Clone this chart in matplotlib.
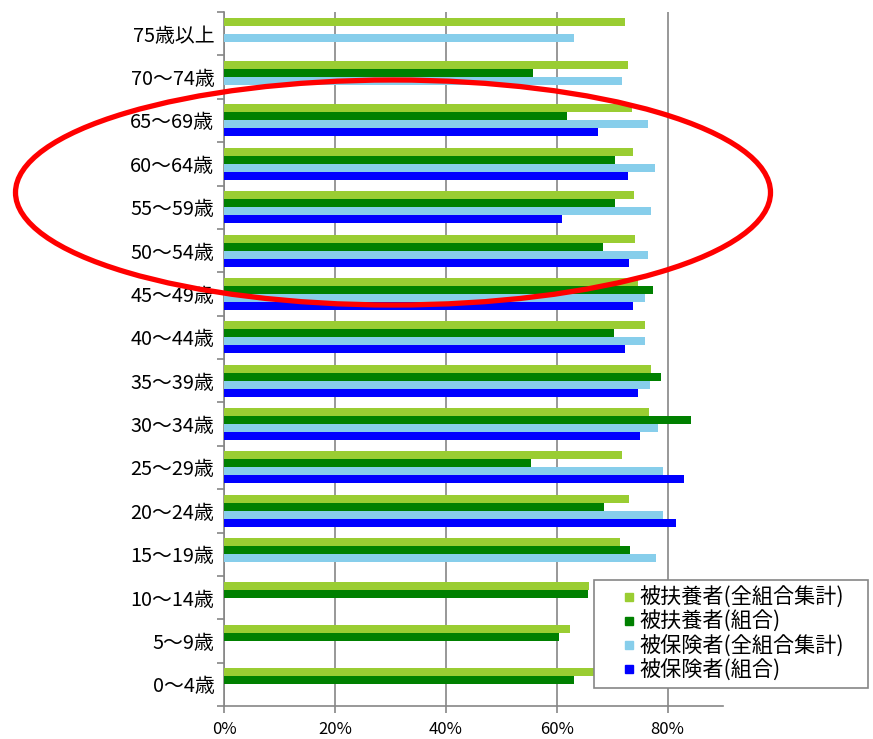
import numpy as np
import matplotlib
matplotlib.use("Agg")
import matplotlib.pyplot as plt
from matplotlib.patches import Ellipse
from matplotlib.lines import Line2D

plt.rcParams['font.family'] = ['Noto Sans CJK JP', 'DejaVu Sans']

# 年齢階級（下から順）
ages = ["0～4歳", "5～9歳", "10～14歳", "15～19歳", "20～24歳", "25～29歳",
        "30～34歳", "35～39歳", "40～44歳", "45～49歳", "50～54歳", "55～59歳",
        "60～64歳", "65～69歳", "70～74歳", "75歳以上"]

nan = np.nan
# 被扶養者（全組合集計）
dep_all = [67.5, 62.4, 65.9, 71.5, 73.1, 71.7, 76.7, 77.0, 75.9, 74.7, 74.2, 74.0,
           73.8, 73.5, 72.9, 72.4]
# 被扶養者（組合）
dep_ours = [63.1, 60.4, 65.7, 73.2, 68.6, 55.4, 84.2, 78.9, 70.4, 77.4, 68.3, 70.5,
            70.6, 61.9, 55.8, nan]
# 被保険者（全組合集計）
ins_all = [nan, nan, nan, 78.0, 79.2, 79.2, 78.3, 76.8, 76.0, 75.9, 76.4, 77.1,
           77.8, 76.5, 71.7, 63.1]
# 被保険者（組合）
ins_ours = [nan, nan, nan, nan, 81.6, 82.9, 75.0, 74.6, 72.4, 73.8, 73.1, 61.0,
            72.9, 67.5, nan, nan]

labels = ["被扶養者(全組合集計)", "被扶養者(組合)",
          "被保険者(全組合集計)", "被保険者(組合)"]
colors = ["#9ACD32", "#008000", "#87CEEB", "#0000FF"]

fig = plt.figure(figsize=(8.73, 7.39), dpi=100)
ax = fig.add_axes([224 / 873, 1 - 706 / 739, 499 / 873, 694 / 739])

y = np.arange(len(ages))
h = 0.185
offsets = [1.5 * h, 0.5 * h, -0.5 * h, -1.5 * h]
for vals, off, c in zip([dep_all, dep_ours, ins_all, ins_ours], offsets, colors):
    ax.barh(y + off, np.array(vals) / 100, height=h, color=c, zorder=3)

ax.set_xlim(0, 0.9)
ax.set_ylim(-0.5, len(ages) - 0.5)
ax.set_xticks([0, 0.2, 0.4, 0.6, 0.8])
ax.set_xticklabels(["0%", "20%", "40%", "60%", "80%"], fontsize=12)
ax.set_yticks(y)
ax.set_yticklabels(ages, fontsize=14.3)
ax.set_yticks(np.arange(-0.5, len(ages)), minor=True)
ax.tick_params(axis='y', which='major', length=0, pad=7)
ax.tick_params(axis='y', which='minor', length=5, color="#868686", width=1.2)
ax.tick_params(axis='x', length=5, color="#868686", width=1.2, pad=6)

ax.grid(axis='x', color="#868686", linewidth=1.2, zorder=0)
for s in ["top", "right"]:
    ax.spines[s].set_visible(False)
for s in ["left", "bottom"]:
    ax.spines[s].set_color("#868686")
    ax.spines[s].set_linewidth(1.2)

handles = [Line2D([], [], marker="s", linestyle="none", markersize=5.5,
                  markerfacecolor=c, markeredgecolor=c) for c in colors]
x0, y0 = 594 / 873, 1 - 688 / 739
leg = ax.legend(handles, labels, loc="lower left",
                bbox_to_anchor=(x0, y0, 274 / 873, 110 / 739), mode="expand",
                bbox_transform=fig.transFigure, borderaxespad=0,
                fontsize=15.2, fancybox=False, framealpha=1, edgecolor="#868686",
                numpoints=1, handlelength=2.75, handletextpad=-0.9,
                labelspacing=0.1, borderpad=0.3)
leg.get_frame().set_linewidth(1.2)
leg.set_zorder(5)

# 赤い楕円で50～69歳を囲む
over = fig.add_axes([0, 0, 1, 1])
over.set_xlim(0, 873)
over.set_ylim(739, 0)
over.axis("off")
over.add_patch(Ellipse((393, 192.5), 755, 225, fill=False, edgecolor="red",
                       linewidth=3.8))

fig.savefig("out.png", dpi=100)
